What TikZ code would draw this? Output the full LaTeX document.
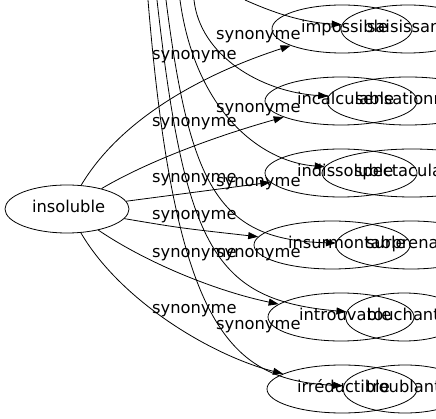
\documentclass[tikz,border=0pt]{standalone}
\usepackage{fontspec}
\setmainfont{DejaVu Sans}
\usetikzlibrary{shapes.geometric,arrows.meta}
\tikzset{
  word/.style={ellipse, draw, line width=0.8pt, inner sep=0pt, minimum height=48pt},
  syn/.style={line width=0.8pt, -{Triangle[length=10pt,width=7pt]}},
  tag/.style={inner sep=0pt, anchor=base west}
}
\newcommand{\wtext}[2]{\makebox[0pt][l]{\hspace{#1pt}#2\strut}}
\begin{document}
\begin{tikzpicture}[x=1pt,y=-1pt,font=\fontsize{16.3}{19}\selectfont]
    \useasboundingbox (0,0) rectangle (436,419);
    \node[word, minimum width=124pt] (ins) at (67,209) {\wtext{-35}{insoluble}};
    \foreach \n/\y/\xa/\wa/\ta/\la/\xb/\wb/\tb/\lb in {
        1/29/342/140/-41/impossible/408/134/-41/saisissant,
        2/101/341/152/-44/incalculable/408/162/-53/sensationnel,
        3/173/341/152/-44/indissoluble/412/180/-58/spectaculaire,
        4/245/332/156/-44/insurmontable/411/150/-45/surprenant,
        5/317/341/146/-42/introuvable/404/117/-37/touchant,
        6/389/342/150/-45/irréductible/405/124/-39/troublant} {
      \node[word, minimum width=\wa pt] (a\n) at (\xa,\y) {\wtext{\ta}{\la}};
      \node[word, minimum width=\wb pt] (b\n) at (\xb,\y) {\wtext{\tb}{\lb}};
    }
    \draw[syn] (ins) .. controls (120,120) and (200,75) .. (a1);
    \draw[syn] (ins) .. controls (150,160) and (220,135) .. (a2);
    \draw[syn] (ins) -- (a3);
    \draw[syn] (ins) .. controls (180,228) .. (a4);
    \draw[syn] (ins) .. controls (150,265) and (220,292) .. (a5);
    \draw[syn] (ins) .. controls (120,300) and (210,355) .. (a6);
    \foreach \n/\x in {1/245, 2/194, 3/180, 4/166, 5/157, 6/148}
      \coordinate (up\n) at (\x,0);
    \draw[syn] (up1) .. controls (272,12) and (300,22) .. (b1);
    \draw[syn] (up2) .. controls (200,55) and (260,92) .. (b2);
    \draw[syn] (up3) .. controls (195,110) and (260,162) .. (b3);
    \draw[syn] (up4) .. controls (190,190) and (220,240) .. (b4);
    \draw[syn] (up5) .. controls (185,250) and (215,300) .. (b5);
    \draw[syn] (up6) .. controls (175,330) and (230,380) .. (b6);
    \foreach \i/\x/\y in {1/152/60, 2/152/127, 3/152/183, 4/152/220, 5/152/258, 6/152/313,
        7/216/40, 8/216/113, 9/216/187, 10/216/258, 11/216/330}
      \node[tag] (lab\i) at (\x,\y) {synonyme};
\end{tikzpicture}
\end{document}
